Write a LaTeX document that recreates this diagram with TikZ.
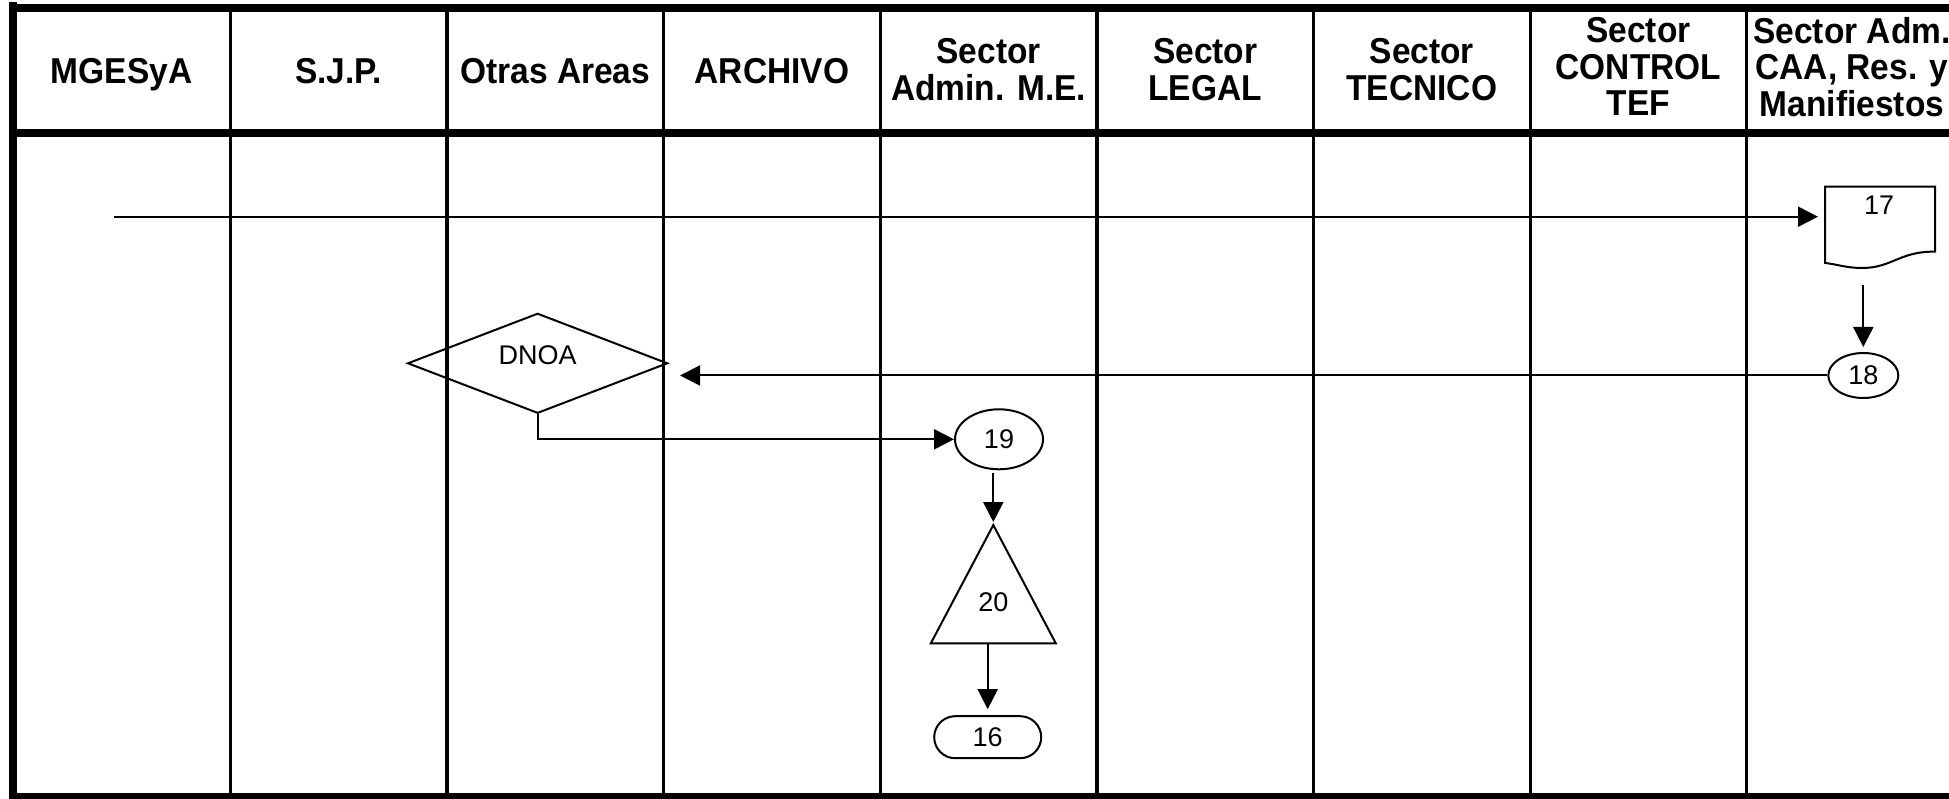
\documentclass[tikz,border=0pt]{standalone}
\usepackage{fontspec}
\setmainfont{Liberation Sans}
\newfontfamily\headfont{Liberation Sans}[FakeStretch=0.93]
\usetikzlibrary{arrows.meta,shapes.geometric,calc}

\begin{document}
\begin{tikzpicture}[x=1pt,y=-1pt,
  frame/.style={line width=8pt},
  headrule/.style={line width=7.3pt},
  lane/.style={line width=3.3pt},
  hdr/.style={font=\headfont\bfseries\fontsize{36}{36.4}\selectfont,
              align=center, inner sep=0pt, text depth=0pt},
  lbl/.style={font=\fontsize{27}{31}\selectfont, inner sep=0pt},
  outline/.style={line width=2pt},
  arr/.style={line width=2pt, -{Triangle[length=20pt,width=20pt]}},
  box/.style={inner sep=0pt, outer sep=0pt}
]
\useasboundingbox (0,0) rectangle (1949,799);
\clip (0,0) rectangle (1949,799);

% --- swimlane grid ---
\draw[frame] (12.8,2) -- (12.8,801);
\draw[frame] (8.8,8) -- (1960,8);
\draw[frame] (8.8,797) -- (1960,797);
\draw[headrule] (12.8,133) -- (1960,133);
\foreach \k in {0,...,7}
  \draw[lane] ({230.3+\k*216.64},8) -- ({230.3+\k*216.64},797);

% --- lane titles ---
\node[hdr] (h1) at (121.6,70.5) {MGESyA};
\node[hdr] (h2) at (338.6,70.5) {S.J.P.};
\node[hdr] (h3) at (555.3,70.5) {Otras Areas};
\node[hdr] (h4) at (771.9,70.5) {ARCHIVO};
\node[hdr] (h5) at (988.6,69.3) {Sector\\Admin. M.E.};
\node[hdr] (h6) at (1205.2,69.3) {Sector\\LEGAL};
\node[hdr] (h7) at (1421.8,69.3) {Sector\\TECNICO};
\node[hdr] (h8) at (1638.5,66.8) {Sector\\CONTROL\\TEF};
\node[hdr] (h9) at (1852,66.8) {Sector Adm.\\CAA, Res. y\\Manifiestos};

% --- document 17 ---
\node[box, minimum width=110, minimum height=76.6] (d17) at (1880,225) {};
\draw[outline] (1825,186.7) -- (1935,186.7) -- (1935,251.7)
  .. controls (1900,251) and (1892,268) .. (1862,268)
  .. controls (1846,268) and (1836,264) .. (1825,263) -- cycle;
\node[lbl] (t17) at (1879,205) {17};

% --- connector 18 ---
\node[draw, outline, lbl, ellipse, minimum width=70, minimum height=45] (e18) at (1863.3,375.5) {18};

% --- decision DNOA ---
\node[draw, outline, diamond, minimum width=260, minimum height=100, inner sep=0pt] (dnoa) at (537.6,363.3) {};
\node[lbl] (tdnoa) at (537.6,355) {DNOA};
\coordinate (dnoain) at (680,375.5);

% --- connector 19 ---
\node[draw, outline, lbl, ellipse, minimum width=88, minimum height=60] (e19) at (999,439.3) {19};

% --- archive 20 ---
\node[box, minimum width=125, minimum height=118.3] (tri20) at (993.3,584.2) {};
\draw[outline] (tri20.north) -- (tri20.south east) -- (tri20.south west) -- cycle;
\node[lbl] (t20) at (993.3,602.7) {20};

% --- terminator 16 ---
\node[draw, outline, lbl, rounded corners=21, minimum width=107, minimum height=42] (b16) at (987.7,737.2) {16};

% --- flow ---
\coordinate (start) at (114.3,216.7);
\draw[arr, shorten >=7pt] (start) -- (start -| d17.west);
\draw[arr, shorten >=5pt] ([yshift=-22pt]d17.south -| e18.north) -- (e18.north);
\draw[arr] (e18.west) -- (dnoain);
\draw[arr] (dnoa.south) |- (e19.west);
\draw[arr, shorten <=3pt, shorten >=3pt] (e19.south -| tri20.north) -- (tri20.north);
\draw[arr, shorten >=6pt] (b16.north |- tri20.south) -- (b16.north);
\end{tikzpicture}
\end{document}
